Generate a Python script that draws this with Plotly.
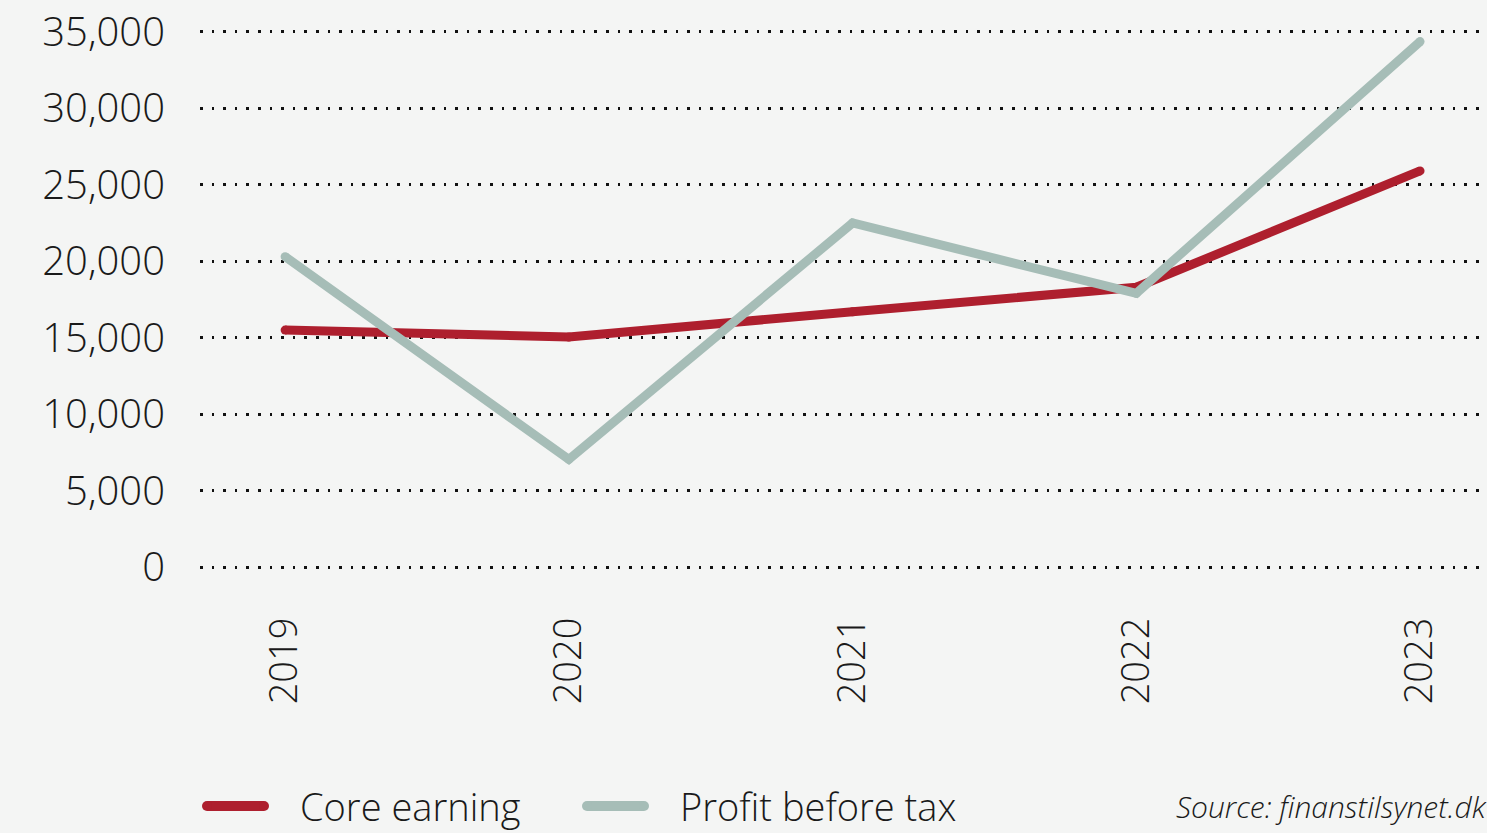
import plotly.graph_objects as go

years = [2019, 2020, 2021, 2022, 2023]
core_earning = [15500, 15050, 16700, 18300, 25900]
profit_before_tax = [20300, 7050, 22500, 17900, 34350]
y_ticks = [0, 5000, 10000, 15000, 20000, 25000, 30000, 35000]
y_tick_labels = ["0", "5,000", "10,000", "15,000", "20,000", "25,000", "30,000", "35,000"]
series_names = ["Core earning", "Profit before tax"]
source_text = "Source: finanstilsynet.dk"

RED = "#ae1f2e"
GREY = "#a6bdb7"
BG = "#f4f5f4"
TXT = "#1a1a1a"
FONT = "Open Sans"
WEIGHT = 300

W, H = 1487, 833
ML, MR, MT, MB = 200, 0, 24, 258
pw = W - ML - MR
ph = H - MT - MB

def px_x(p):
    return (p - ML) / pw

def px_y(p):
    return (H - MB - p) / ph

fig = go.Figure()
for vals, col, name in [(core_earning, RED, series_names[0]), (profit_before_tax, GREY, series_names[1])]:
    fig.add_trace(go.Scatter(x=years, y=vals, mode="lines+markers", name=name,
                             line=dict(color=col, width=9),
                             marker=dict(color=col, size=9, line=dict(width=0)),
                             showlegend=False, hoverinfo="skip"))

# manual legend
legend_items = [(207, 264, 298, RED, series_names[0]), (587, 644, 678, GREY, series_names[1])]
ly = px_y(806)
for x0, x1, tx, col, name in legend_items:
    fig.add_shape(type="line", xref="paper", yref="paper", x0=px_x(x0), x1=px_x(x1),
                  y0=ly, y1=ly, line=dict(color=col, width=10))
    for xe in (x0, x1):
        fig.add_shape(type="circle", xref="paper", yref="paper",
                      x0=px_x(xe - 5), x1=px_x(xe + 5), y0=ly - 5 / ph, y1=ly + 5 / ph,
                      fillcolor=col, line=dict(width=0))
    fig.add_annotation(xref="paper", yref="paper", x=px_x(tx), y=ly, text=name,
                       showarrow=False, xanchor="left", yanchor="middle",
                       font=dict(family=FONT, size=38, color=TXT, weight=WEIGHT))

fig.add_annotation(xref="paper", yref="paper", x=px_x(1174), y=ly, text=f"<i>{source_text}</i>",
                   showarrow=False, xanchor="left", yanchor="middle",
                   font=dict(family=FONT, size=30, color=TXT, weight=WEIGHT))

fig.update_layout(
    width=W, height=H,
    margin=dict(l=ML, r=MR, t=MT, b=MB),
    paper_bgcolor=BG, plot_bgcolor=BG,
    xaxis=dict(range=[2018.70, 2023.236], tickmode="array", tickvals=years,
               ticktext=[str(y) for y in years], tickangle=-90, showgrid=False,
               zeroline=False, showline=False, ticks="", ticklabelstandoff=34,
               tickfont=dict(family=FONT, size=38, color=TXT, weight=WEIGHT)),
    yaxis=dict(range=[-500, 35500], tickmode="array", tickvals=y_ticks, ticktext=y_tick_labels,
               showgrid=True, gridcolor="#111111", gridwidth=2.6, griddash="2.6px,9px",
               zeroline=False, showline=False, ticks="", ticklabelstandoff=34,
               tickfont=dict(family=FONT, size=40, color=TXT, weight=WEIGHT)),
)

fig.write_html("out.html", config={"displayModeBar": False})
with open("out.html", "r", encoding="utf-8") as f:
    html = f.read()
html = html.replace("<head>", "<head><style>html,body{margin:0;padding:0;overflow:hidden;background:#f4f5f4;}</style>", 1)
with open("out.html", "w", encoding="utf-8") as f:
    f.write(html)
